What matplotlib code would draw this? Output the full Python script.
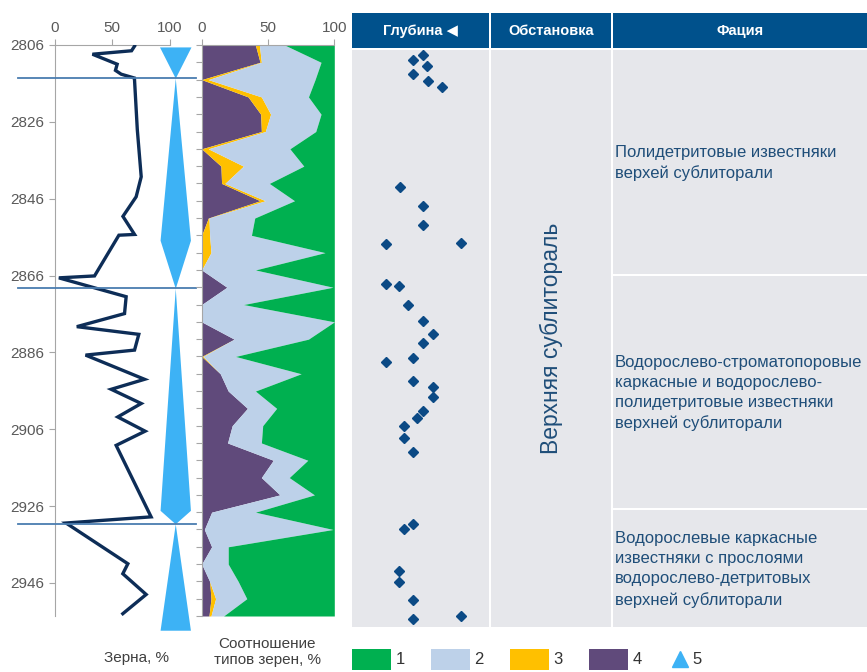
import matplotlib.pyplot as plt
from matplotlib.patches import Rectangle
import numpy as np

plt.rcParams['font.family'] = ['Liberation Sans', 'DejaVu Sans']

# Кривая "Зерна, %"
grain_depth = [2806.3, 2807.5, 2808.4, 2811.0, 2812.6, 2813.6, 2814.6, 2828.0, 2840.3,
               2845.5, 2850.6, 2855.3, 2855.5, 2866.1, 2866.6, 2871.5, 2875.9, 2879.3,
               2881.3, 2885.4, 2886.7, 2893.0, 2895.6, 2899.3, 2902.8, 2906.5, 2910.2,
               2928.8, 2930.4, 2941.0, 2943.6, 2949.0, 2954.0]
grain_pct = [69.6, 67, 33, 54.5, 53, 58, 69.5, 72, 75.4,
             71, 59.5, 69.6, 56, 34.8, 3.8, 62.3, 60.9, 19.4,
             73.3, 69.6, 27, 78.3, 49.3, 75.4, 55, 78.8, 53.6,
             84, 10, 63.8, 59.4, 79.7, 59.4]

# Конусы (тренд), глубина и полуширина
cone_depth = [2806.5, 2814.6, 2856.8, 2869.3, 2927.1, 2930.6, 2958.3]
cone_half = [13.7, 0, 13.2, 0, 13.2, 0, 13.2]
cone_center = 105

boundary_depth = [2814.6, 2869.3, 2930.6]

# Соотношение типов зерен, % (по образцам сверху вниз)
type4 = [40.5, 44, 0, 35, 44.5, 45, 0, 14.5, 15, 44, 5, 0, 0, 0, 19, 0, 0,
         24.5, 0, 14, 20, 34.5, 23, 19.5, 54, 45, 59, 7.5, 2, 7.5, 0, 6, 7, 5.5]
type3 = [3, 1, 5, 10, 7.5, 3, 5, 17, 2.5, 4, 0.5, 6, 7, 0, 0, 0, 0,
         0, 1, 0, 0, 0, 0, 0, 0, 0, 0, 0, 0, 0, 0, 0, 3.5, 1.5]
type2 = [19, 45, 80.5, 35.5, 38, 38, 61.5, 45.5, 33.5, 22, 34.5, 31.5, 86, 40.5, 80, 31.5, 100,
         56, 24.5, 61, 20.5, 22, 23, 25.5, 26, 21, 26, 33, 97, 12.5, 20, 21.5, 23.5, 9.5]
type1 = [37.5, 10, 14.5, 19.5, 10, 14, 33.5, 23, 49, 30, 60, 62.5, 7, 59.5, 1, 68.5, 0,
         19.5, 74.5, 25, 59.5, 43.5, 54, 55, 20, 34, 15, 59.5, 1, 80, 80, 72.5, 66, 83.5]

# Точки в колонке "Глубина"
dot_val = [51.6, 44.7, 54.5, 44.7, 55.7, 65.9, 35, 51.6, 51.6, 24.6, 79.3, 24.6, 34.3,
           40.7, 51.6, 59.1, 51.6, 44.7, 24.6, 44.7, 59.1, 59.1, 51.6, 47.7, 38.2, 38.2,
           44.7, 44.7, 38.2, 34.3, 34.3, 44.7, 44.7, 79.3]
dot_depth = [2808.6, 2809.9, 2811.3, 2813.4, 2815.4, 2816.9, 2842.9, 2847.9, 2852.9, 2857.9,
             2857.6, 2868.2, 2868.8, 2873.8, 2878.0, 2881.3, 2883.5, 2887.4, 2888.5, 2893.5,
             2895.0, 2897.6, 2901.3, 2903.1, 2905.2, 2908.4, 2912.1, 2930.7, 2932.1, 2942.9,
             2945.8, 2950.5, 2955.6, 2954.7]

headers = ['Глубина ◀', 'Обстановка', 'Фация']
setting = 'Верхняя сублитораль'
facies = ['Полидетритовые известняки\nверхей сублиторали',
          'Водорослево-строматопоровые\nкаркасные и водорослево-\nполидетритовые известняки\nверхней сублиторали',
          'Водорослевые каркасные\nизвестняки с прослоями\nводорослево-детритовых\nверхней сублиторали']

legend_labels = ['1', '2', '3', '4', '5']
type_colors = ['#00B050', '#BDD1E9', '#FFC000', '#604A7B']
navy = '#0D2D57'
tick_gray = '#595959'
spine_gray = '#A6A6A6'
header_blue = '#00518C'
cell_gray = '#E6E7EB'
text_blue = '#1F4E79'

W, H = 867, 672
fig = plt.figure(figsize=(W / 100, H / 100), dpi=100)


def px_axes(x0, y0, x1, y1):
    return fig.add_axes([x0 / W, 1 - y1 / H, (x1 - x0) / W, (y1 - y0) / H])


# фон / таблица в пиксельных координатах
bg = fig.add_axes([0, 0, 1, 1], zorder=-5)
bg.set_xlim(0, W)
bg.set_ylim(H, 0)
bg.axis('off')

cols = [(352, 489), (491, 611), (613, 867)]
for (c0, c1), h in zip(cols, headers):
    bg.add_patch(Rectangle((c0, 13), c1 - c0, 35, color=header_blue, lw=0))
    bg.text((c0 + c1) / 2, 31, h, color='white', fontsize=10.5, fontweight='bold',
            ha='center', va='center')
bg.add_patch(Rectangle((352, 50), 137, 577, color=cell_gray, lw=0))
bg.add_patch(Rectangle((491, 50), 120, 577, color=cell_gray, lw=0))
rows = [(50, 274), (276, 508), (510, 627)]
for (r0, r1), txt in zip(rows, facies):
    bg.add_patch(Rectangle((613, r0), 254, r1 - r0, color=cell_gray, lw=0))
    bg.text(615, (r0 + r1) / 2 + 1, txt, color=text_blue, fontsize=12,
            ha='left', va='center', linespacing=1.42)
bg.text(551, 338, setting, color=text_blue, fontsize=16.5, rotation=90,
        ha='center', va='center')

# легенда
leg_x = [352, 431, 510, 589]
for x, c, lab in zip(leg_x, type_colors, legend_labels[:4]):
    bg.add_patch(Rectangle((x, 649), 39, 21, color=c, lw=0))
    bg.text(x + 48, 660, lab, fontsize=12, color='#333333', ha='center', va='center')
bg.plot([680], [659], marker='^', ms=11, color='#3DB2F5', ls='none')
bg.text(697, 659, legend_labels[4], fontsize=12, color='#333333', ha='center', va='center')

bg.text(137, 658, 'Зерна, %', fontsize=11, color='#404040', ha='center', va='center')
bg.text(267, 637, 'Соотношение\nтипов зерен, %', fontsize=11, color='#404040',
        ha='center', va='top', linespacing=1.2)

# левая панель: зерна, %
ax = px_axes(54.5, 45, 169.5, 616)
ax.fill_betweenx(cone_depth, np.array([cone_center] * len(cone_half)) - np.array(cone_half),
                 np.array([cone_center] * len(cone_half)) + np.array(cone_half),
                 color='#3DB2F5', lw=0, clip_on=False)
ax.plot(grain_pct, grain_depth, color=navy, lw=2.4, solid_joinstyle='miter', zorder=3)
for d in boundary_depth:
    ax.plot([-32, 123], [d, d], color='#4A7DB0', lw=1.3, clip_on=False, zorder=4)
ax.set_xlim(0, 100)
ax.set_ylim(2954.6, 2806)
ax.set_yticks(range(2806, 2950, 20))
ax.set_xticks([0, 50, 100])
ax.xaxis.tick_top()
for s in ['right', 'bottom']:
    ax.spines[s].set_visible(False)
for s in ['left', 'top']:
    ax.spines[s].set_color(spine_gray)
ax.tick_params(colors=spine_gray, labelcolor=tick_gray, labelsize=11, length=4)
ax.patch.set_alpha(0)

# средняя панель: соотношение типов зерен
ax2 = px_axes(201.7, 45, 334.3, 616)
idx = np.arange(len(type1))
left = np.zeros(len(type1))
for vals, c in zip([type4, type3, type2, type1], type_colors[::-1]):
    right = left + np.array(vals)
    ax2.fill_betweenx(idx, left, right, color=c, lw=0)
    left = right
ax2.set_xlim(0, 100)
ax2.set_ylim(len(idx) - 1, 0)
ax2.set_xticks([0, 50, 100])
ax2.set_yticks(idx)
ax2.set_yticklabels([])
ax2.xaxis.tick_top()
for s in ['right', 'bottom']:
    ax2.spines[s].set_visible(False)
for s in ['left', 'top']:
    ax2.spines[s].set_color(spine_gray)
ax2.tick_params(colors=spine_gray, labelcolor=tick_gray, labelsize=11, length=4)

# колонка "Глубина"
ax3 = px_axes(352, 49, 489, 627)
ax3.plot(dot_val, dot_depth, ls='none', marker='D', ms=5.5, color='#0B4A85')
ax3.set_xlim(0, 100)
ax3.set_ylim(2957.6, 2807.0)
ax3.axis('off')

fig.savefig('out.png', dpi=100)
